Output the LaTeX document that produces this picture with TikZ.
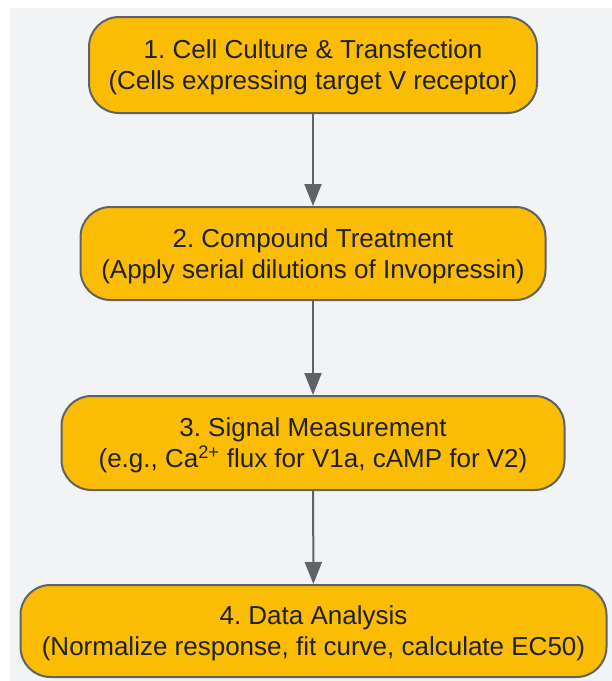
\documentclass[tikz,border=0pt]{standalone}
\usepackage{fontspec}
\setmainfont{Liberation Sans}
\usetikzlibrary{arrows.meta}
\definecolor{bg}{HTML}{F1F3F5}
\definecolor{boxfill}{HTML}{FBBC04}
\definecolor{edge}{HTML}{5F6368}
\definecolor{txt}{HTML}{202124}
\newcommand{\twolines}[2]{\raisebox{-2.8pt}[\height][\depth]{\begin{tabular}{@{}c@{}}#1\\#2\end{tabular}}}
\frenchspacing
\begin{document}
\begin{tikzpicture}[x=1pt,y=-1pt,
  stepbox/.style={draw=edge, line width=2pt, fill=boxfill, rounded corners=30pt,
    text=txt, align=center, font=\fontsize{26}{31}\selectfont, inner sep=0pt},
  flow/.style={draw=edge, line width=2pt, -{Triangle[length=22pt,width=17pt]}}]
\useasboundingbox (0,0) rectangle (612,681);
\fill[bg] (10,8) rectangle (612,681);
\node[stepbox, minimum width=448pt, minimum height=96pt] (s1) at (313,65)
  {\twolines{1. Cell Culture \& Transfection}{(Cells expressing target V receptor)}};
\node[stepbox, minimum width=465pt, minimum height=93pt] (s2) at (313,253.5)
  {\twolines{2. Compound Treatment}{(Apply serial dilutions of Invopressin)}};
\node[stepbox, minimum width=503pt, minimum height=94pt] (s3) at (313,443)
  {\twolines{3. Signal Measurement}{(e.g., Ca\textsuperscript{2+} flux for V1a, cAMP for V2)}};
\node[stepbox, minimum width=586pt, minimum height=92pt] (s4) at (313.5,631)
  {\twolines{4. Data Analysis}{(Normalize response, fit curve, calculate EC50)}};
\draw[flow] (s1) -- (s2);
\draw[flow] (s2) -- (s3);
\draw[flow] (s3) -- (s4);
\end{tikzpicture}
\end{document}
